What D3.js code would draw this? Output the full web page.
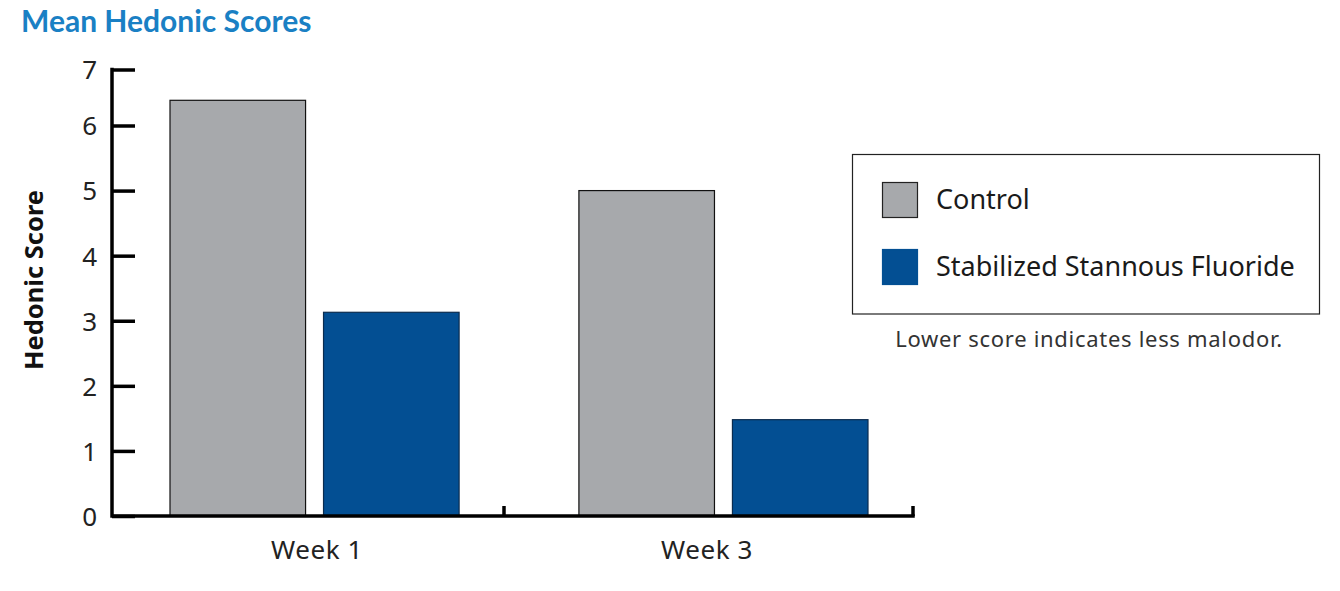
<!DOCTYPE html>
<html>
<head>
<meta charset="utf-8">
<script src="https://cdn.jsdelivr.net/npm/d3@7"></script>
<style>
  body { margin: 0; background: #fff; }
  svg { display: block; }
</style>
</head>
<body>
<div id="chart"></div>
<script>
// data
const weeks = ["Week 1", "Week 3"];
const series = ["Control", "Stabilized Stannous Fluoride"];
const controlScores = [6.45, 5.0];
const stannousScores = [3.13, 1.48];
const yTicks = [0, 1, 2, 3, 4, 5, 6, 7];

const width = 1340;
const height = 591;
const font = "'Noto Sans', sans-serif";
const colors = { "Control": "#a7a9ac", "Stabilized Stannous Fluoride": "#034f93" };
const strokes = { "Control": "#111", "Stabilized Stannous Fluoride": "#0b2c4f" };

const svg = d3.select("#chart").append("svg")
    .attr("width", width)
    .attr("height", height);

// plot frame
const axisLeft = 112, axisRight = 913, axisBottom = 516;

// y scale: top tick sits a bit closer than the others in the original
const y = d3.scaleLinear()
    .domain([0, 6, 7])
    .range([axisBottom, 125.5, 69.5]);

// group positions
const x0 = d3.scaleBand()
    .domain(weeks)
    .range([170, 868])
    .paddingInner(0.293)
    .paddingOuter(0);

const x1 = d3.scaleBand()
    .domain(series)
    .range([0, x0.bandwidth()])
    .paddingInner(0.117);

// label positions under the axis
const xLabel = d3.scalePoint()
    .domain(weeks)
    .range([317, 707]);

const rows = weeks.map((w, i) => ({
    week: w,
    values: [
        { key: series[0], value: controlScores[i] },
        { key: series[1], value: stannousScores[i] }
    ]
}));

// Title
svg.append("text")
    .attr("x", 21)
    .attr("y", 32)
    .attr("fill", "#1a80c4")
    .style("font-family", "Lato, sans-serif")
    .style("font-weight", "bold")
    .style("font-size", "30px")
    .text("Mean Hedonic Scores");

// Bars
const groups = svg.selectAll(".group")
    .data(rows)
    .enter()
    .append("g")
    .attr("class", "group")
    .attr("transform", d => `translate(${x0(d.week)},0)`);

groups.selectAll("rect")
    .data(d => d.values)
    .enter()
    .append("rect")
    .attr("x", d => x1(d.key))
    .attr("y", d => y(d.value))
    .attr("width", x1.bandwidth())
    .attr("height", d => y(0) - y(d.value))
    .attr("fill", d => colors[d.key])
    .attr("stroke", d => strokes[d.key])
    .attr("stroke-width", 1.2);

// Y axis
const yAxis = svg.append("g")
    .attr("transform", `translate(${axisLeft},0)`)
    .call(d3.axisRight(y).tickValues(yTicks).tickSize(23).tickSizeOuter(0).tickFormat(d3.format("d")));

yAxis.select(".domain").remove();
yAxis.selectAll(".tick line")
    .attr("stroke", "#000")
    .attr("stroke-width", 3.5);
yAxis.selectAll(".tick text")
    .attr("x", -15)
    .attr("text-anchor", "end")
    .attr("dy", "0.36em")
    .attr("fill", "#222")
    .style("font-family", font)
    .style("font-size", "26px");

svg.append("line")
    .attr("x1", axisLeft)
    .attr("x2", axisLeft)
    .attr("y1", y(7) - 1.75)
    .attr("y2", axisBottom + 1.75)
    .attr("stroke", "#000")
    .attr("stroke-width", 3.5);

// X axis line with the two small upward ticks
svg.append("line")
    .attr("x1", axisLeft)
    .attr("x2", axisRight + 1.75)
    .attr("y1", axisBottom)
    .attr("y2", axisBottom)
    .attr("stroke", "#000")
    .attr("stroke-width", 3.5);

[504, axisRight].forEach(tx => {
    svg.append("line")
        .attr("x1", tx)
        .attr("x2", tx)
        .attr("y1", axisBottom)
        .attr("y2", axisBottom - 10)
        .attr("stroke", "#000")
        .attr("stroke-width", 3.5);
});

// Category labels
svg.selectAll(".week-label")
    .data(weeks)
    .enter()
    .append("text")
    .attr("class", "week-label")
    .attr("x", d => xLabel(d))
    .attr("y", 559)
    .attr("text-anchor", "middle")
    .attr("fill", "#222")
    .style("font-family", font)
    .style("font-size", "26px")
    .style("letter-spacing", "0.6px")
    .text(d => d);

// Y axis title
svg.append("text")
    .attr("transform", "translate(43,280) rotate(-90)")
    .attr("text-anchor", "middle")
    .attr("fill", "#111")
    .style("font-family", font)
    .style("font-weight", "bold")
    .style("font-size", "25.5px")
    .text("Hedonic Score");

// Legend
const legend = svg.append("g");

legend.append("rect")
    .attr("x", 852.5)
    .attr("y", 154.5)
    .attr("width", 467)
    .attr("height", 159.5)
    .attr("fill", "none")
    .attr("stroke", "#222")
    .attr("stroke-width", 1.2);

const legendRow = d3.scalePoint()
    .domain(series)
    .range([182.5, 249.5]);

legend.selectAll(".swatch")
    .data(series)
    .enter()
    .append("rect")
    .attr("class", "swatch")
    .attr("x", 882.5)
    .attr("y", d => legendRow(d))
    .attr("width", 35)
    .attr("height", 35)
    .attr("fill", d => colors[d])
    .attr("stroke", d => d === "Control" ? "#222" : colors[d])
    .attr("stroke-width", 1.2);

legend.selectAll(".legend-label")
    .data(series)
    .enter()
    .append("text")
    .attr("class", "legend-label")
    .attr("x", 936)
    .attr("y", d => legendRow(d) + 26)
    .attr("fill", "#1a1a1a")
    .style("font-family", font)
    .style("font-size", "27px")
    .text(d => d);

// Note
svg.append("text")
    .attr("x", 1089)
    .attr("y", 347)
    .attr("text-anchor", "middle")
    .attr("fill", "#333")
    .style("font-family", font)
    .style("font-size", "22px")
    .style("letter-spacing", "0.7px")
    .text("Lower score indicates less malodor.");
</script>
</body>
</html>
